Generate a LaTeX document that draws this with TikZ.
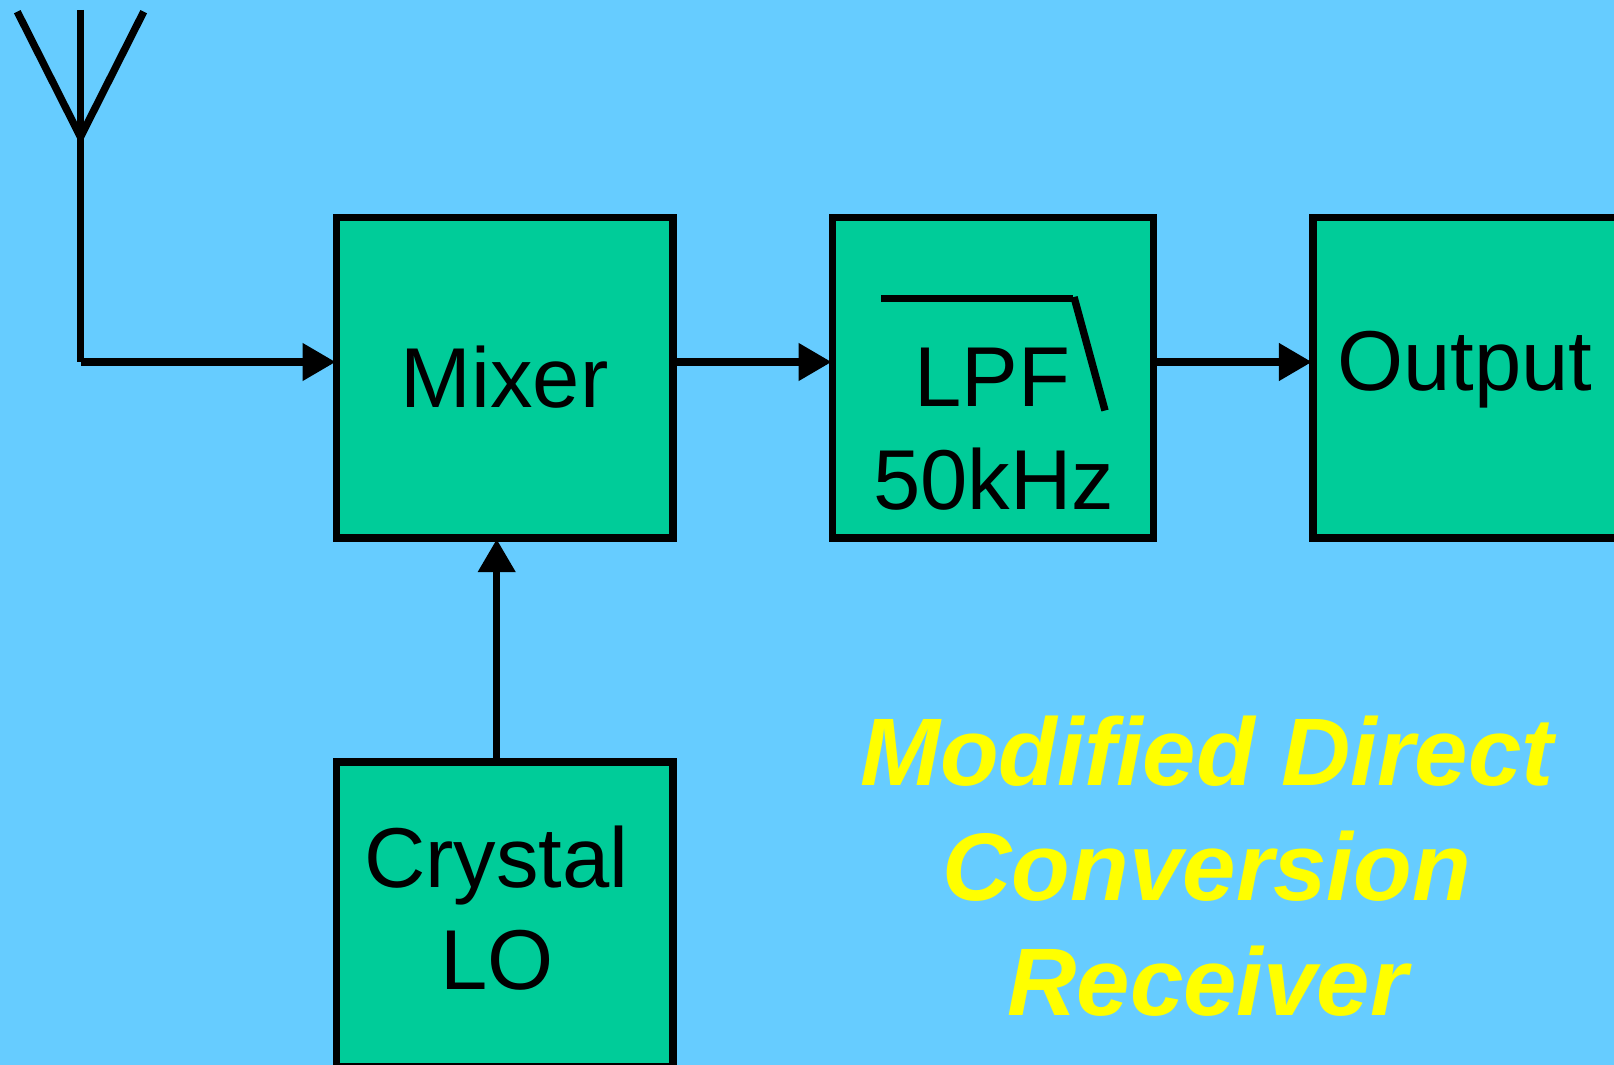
\documentclass[tikz,border=0pt]{standalone}
\usepackage{fontspec}
\setmainfont{Liberation Sans}
\usetikzlibrary{arrows.meta}
\definecolor{bgblue}{RGB}{102,204,255}
\definecolor{boxgreen}{RGB}{0,204,153}
\definecolor{titleyellow}{RGB}{255,255,0}
\tikzset{
  x=1pt,y=-1pt,
  wire/.style={line width=7.4pt,draw=black},
  feed/.style={wire,-{Triangle[length=33pt,width=36pt]},shorten >=-2.5pt},
  blockbox/.style={draw=black,line width=7.2pt,fill=boxgreen,inner sep=0pt},
  lbl/.style={font=\fontsize{85}{85}\selectfont,inner sep=0pt,anchor=base,text=black},
  ttl/.style={font=\fontsize{96}{96}\selectfont\bfseries\itshape,inner sep=0pt,anchor=base,text=titleyellow}
}
\begin{document}
\begin{tikzpicture}
\path[use as bounding box,fill=bgblue] (0,0) rectangle (1614,1065);
% boxes
\node[blockbox,minimum width=336.3pt,minimum height=320.3pt] (mixer) at (504.85,377.85) {};
\node[blockbox,minimum width=320.6pt,minimum height=320.3pt] (lpf) at (993,377.85) {};
\node[blockbox,minimum width=347pt,minimum height=320.3pt] (output) at (1486.5,377.85) {};
\node[blockbox,minimum width=336.3pt,minimum height=304.4pt] (lo) at (504.85,914.2) {};
% antenna
\coordinate (tipL) at (17.3,11.7);
\coordinate (tipM) at (80.5,10);
\coordinate (tipR) at (143.7,11.7);
\coordinate (ant) at (80.5,137);
\coordinate (corner) at (80.5,362);
\coordinate (mixin) at (mixer.west |- corner);
\coordinate (mixout) at (mixer.east |- corner);
\coordinate (lpfin) at (lpf.west |- corner);
\coordinate (lpfout) at (lpf.east |- corner);
\coordinate (outin) at (output.west |- corner);
\draw[wire] (tipL) -- (ant) -- (tipR);
\draw[wire] (tipM) -- (corner);
\draw[feed] (corner) -- (mixin);
\draw[feed] (mixout) -- (lpfin);
\draw[feed] (lpfout) -- (outin);
\coordinate (lotop) at (496.7,760);
\draw[feed] (lotop) -- (lotop |- mixer.south);
% filter symbol
\coordinate (fa) at (881,298.3);
\coordinate (fb) at (1073,298.3);
\coordinate (fc) at (1074,297);
\coordinate (fd) at (1105,410.5);
\draw[wire] (fa) -- (fb);
\draw[wire] (fc) -- (fd);
% labels
\node[lbl] (mixerlbl) at (504.5,407.3) {Mixer};
\node[lbl] (lpflbl) at (992,406.7) {LPF};
\node[lbl] (khz) at (993.5,509.3) {50kHz};
\node[lbl] (outlbl) at (1465,390.7) {Output};
\node[lbl] (crystal) at (496.3,887.3) {Crystal};
\node[lbl] (lolbl) at (497,989) {LO};
\node[ttl] (t1) at (1207,785) {Modified Direct};
\node[ttl] (t2) at (1206.7,900) {Conversion};
\node[ttl] (t3) at (1207.6,1015.3) {Receiver};
\end{tikzpicture}
\end{document}
